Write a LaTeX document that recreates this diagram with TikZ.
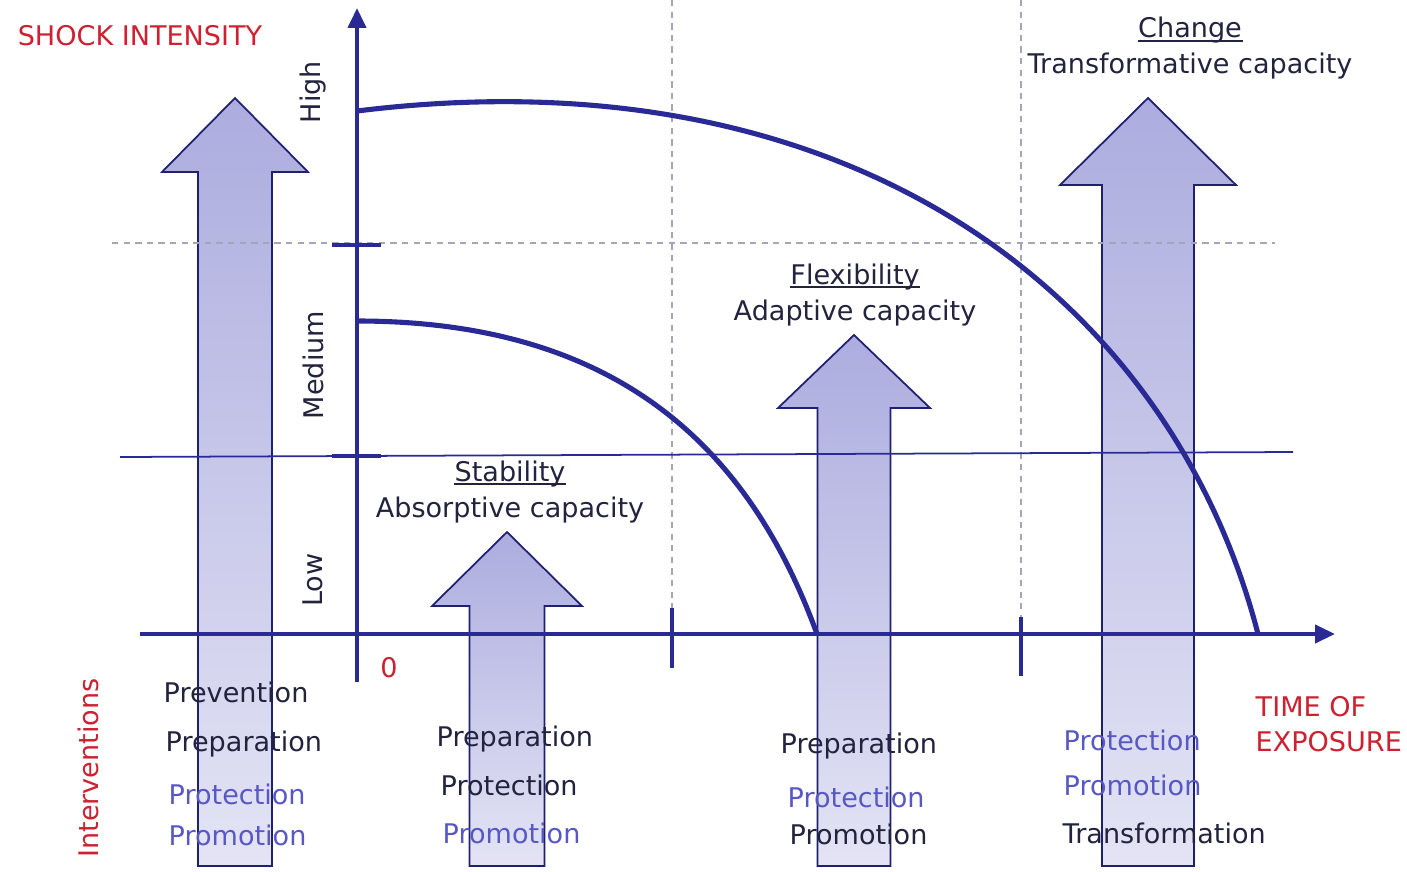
\documentclass[tikz,border=0pt]{standalone}
\usepackage{fontspec}
\setmainfont{DejaVu Sans}
\usetikzlibrary{arrows.meta}
\definecolor{axisblue}{RGB}{42,42,150}
\definecolor{shockred}{RGB}{205,32,48}
\definecolor{darktext}{RGB}{34,36,62}
\definecolor{softblue}{RGB}{88,88,196}
\definecolor{guidegrey}{RGB}{165,165,185}
\definecolor{arrtop}{RGB}{172,172,223}
\definecolor{arrbot}{RGB}{228,228,245}
\begin{document}
\begin{tikzpicture}[
  every node/.style={font=\fontsize{7.7}{10}\selectfont, inner sep=0pt},
  axis/.style={axisblue, line width=1.15pt},
  curve/.style={axisblue, line width=1.45pt},
  guide/.style={guidegrey, line width=0.4pt, dash pattern=on 1.8pt off 1.5pt},
  bigarrow/.style={draw=axisblue!75!black, line width=0.5pt, top color=arrtop, bottom color=arrbot},
  lab/.style={text=darktext},
  alt/.style={text=softblue},
  note/.style={text=shockred},
  head/.style={lab, anchor=base},
  uline/.style={darktext, line width=0.4pt},
  tip/.style={-{Triangle[length=2mm,width=1.8mm]}}
]
\useasboundingbox (0,0) rectangle (14.07,8.71);

% block arrows, one per capacity
\foreach \cx/\sw/\hw/\hb/\tp in {2.35/0.37/0.73/6.99/7.73, 5.07/0.375/0.75/2.65/3.39,
    8.54/0.365/0.76/4.63/5.36, 11.48/0.46/0.88/6.86/7.73}
  \path[bigarrow] (\cx-\sw,0.05) -- (\cx-\sw,\hb) -- (\cx-\hw,\hb) -- (\cx,\tp)
    -- (\cx+\hw,\hb) -- (\cx+\sw,\hb) -- (\cx+\sw,0.05) -- cycle;

% guide lines
\coordinate (g1t) at (6.72,8.71);
\coordinate (g1b) at (6.72,2.37);
\coordinate (g2t) at (10.21,8.71);
\coordinate (g2b) at (10.21,2.37);
\coordinate (hl) at (1.12,6.28);
\coordinate (hr) at (12.75,6.28);
\coordinate (ll) at (1.20,4.14);
\coordinate (lr) at (12.93,4.19);
\draw[guide] (g1t) -- (g1b);
\draw[guide] (g2t) -- (g2b);
\draw[guide] (hl) -- (hr);
\draw[axisblue, line width=0.5pt] (ll) -- (lr);

% axes
\coordinate (xs) at (1.40,2.37);
\coordinate (xe) at (13.35,2.37);
\coordinate (ys) at (3.57,1.89);
\coordinate (ye) at (3.57,8.63);
\draw[axis, tip] (xs) -- (xe);
\draw[axis, tip] (ys) -- (ye);
\draw[axis] (3.32,6.26) -- (3.81,6.26);
\draw[axis] (3.32,4.15) -- (3.81,4.15);
\draw[axis] (6.72,2.03) -- (6.72,2.63);
\draw[axis] (10.21,1.95) -- (10.21,2.54);

% shock curves
\draw[curve] (3.57,7.60) .. controls (8.50,8.21) and (11.70,5.76) .. (12.58,2.37);
\draw[curve] (3.57,5.50) .. controls (6.20,5.50) and (7.50,4.21) .. (8.17,2.37);

% axis labels
\node[note] (shock) at (1.40,8.35) {SHOCK INTENSITY};
\node[lab, rotate=90] (high) at (3.13,7.79) {High};
\node[lab, rotate=90] (medium) at (3.13,5.06) {Medium};
\node[lab, rotate=90] (low) at (3.13,2.91) {Low};
\node[note] (zero) at (3.89,2.03) {0};
\node[note, rotate=90] (interv) at (0.88,1.03) {Interventions};
\node[note, anchor=west, align=left] (time) at (12.55,1.465) {TIME OF\\EXPOSURE};

% capacities
\node[head] (stab) at (5.10,3.90) {Stability};
\node[head] (absorb) at (5.10,3.54) {Absorptive capacity};
\node[head] (flex) at (8.55,5.87) {Flexibility};
\node[head] (adapt) at (8.55,5.51) {Adaptive capacity};
\node[head] (change) at (11.90,8.33) {Change};
\node[head] (transf) at (11.90,7.97) {Transformative capacity};
\draw[uline] ([yshift=-0.9pt]stab.base west) -- ([yshift=-0.9pt]stab.base east);
\draw[uline] ([yshift=-0.9pt]flex.base west) -- ([yshift=-0.9pt]flex.base east);
\draw[uline] ([yshift=-0.9pt]change.base west) -- ([yshift=-0.9pt]change.base east);

% interventions
\node[lab, anchor=base west] (a1) at (1.63,1.69) {Prevention};
\node[lab, anchor=base west] (a2) at (1.65,1.20) {Preparation};
\node[alt, anchor=base west] (a3) at (1.68,0.67) {Protection};
\node[alt, anchor=base west] (a4) at (1.68,0.26) {Promotion};
\node[lab, anchor=base west] (b1) at (4.36,1.25) {Preparation};
\node[lab, anchor=base west] (b2) at (4.40,0.76) {Protection};
\node[alt, anchor=base west] (b3) at (4.42,0.28) {Promotion};
\node[lab, anchor=base west] (c1) at (7.80,1.18) {Preparation};
\node[alt, anchor=base west] (c2) at (7.87,0.64) {Protection};
\node[lab, anchor=base west] (c3) at (7.89,0.27) {Promotion};
\node[alt, anchor=base west] (d1) at (10.63,1.21) {Protection};
\node[alt, anchor=base west] (d2) at (10.63,0.76) {Promotion};
\node[lab, anchor=base west] (d3) at (10.62,0.28) {Transformation};
\end{tikzpicture}
\end{document}
